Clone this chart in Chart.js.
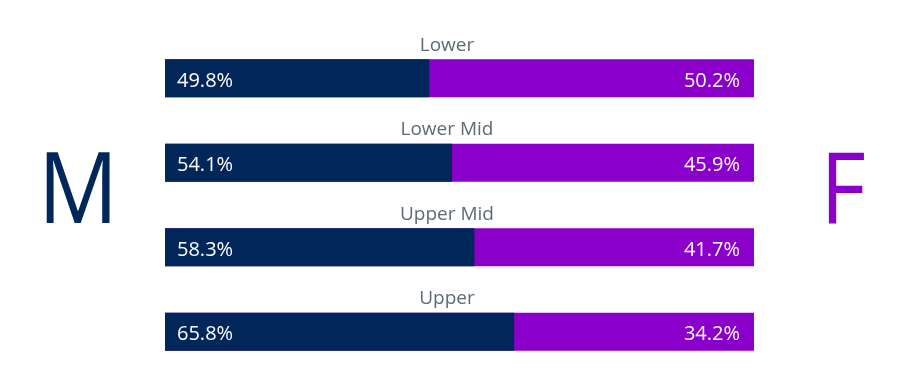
<!DOCTYPE html>
<html>
<head>
<meta charset="utf-8">
<script src="https://cdn.jsdelivr.net/npm/chart.js@4/dist/chart.umd.min.js"></script>
<style>
  html, body { margin: 0; padding: 0; background: #ffffff; }
  #wrap { width: 906px; height: 383px; position: relative; }
</style>
</head>
<body>
<div id="wrap"><canvas id="c"></canvas></div>
<script>
const categories = ['Lower', 'Lower Mid', 'Upper Mid', 'Upper'];
const maleValues = [49.8, 54.1, 58.3, 65.8];
const femaleValues = [50.2, 45.9, 41.7, 34.2];
const sideLabels = ['M', 'F'];

const NAVY = '#00265A';
const PURPLE = '#8A00CA';
const GREY = '#5E6B73';

// full bar = male + female share
const totalValues = maleValues.map((m, i) => m + femaleValues[i]);

const labelPlugin = {
  id: 'labels',
  afterDatasetsDraw(chart) {
    const ctx = chart.ctx;
    const meta = chart.getDatasetMeta(0);
    const area = chart.chartArea;
    ctx.save();
    meta.data.forEach((bar, i) => {
      const top = bar.y - bar.height / 2;
      ctx.fillStyle = GREY;
      ctx.font = '19px "Open Sans"';
      ctx.textAlign = 'center';
      ctx.textBaseline = 'alphabetic';
      ctx.fillText(categories[i], 447, top - 8.5);

      ctx.fillStyle = '#ffffff';
      ctx.font = '20px "Open Sans"';
      ctx.textAlign = 'left';
      ctx.fillText(maleValues[i].toFixed(1) + '%', area.left + 12, bar.y + 8.5);
      ctx.textAlign = 'right';
      ctx.fillText(femaleValues[i].toFixed(1) + '%', area.right - 14, bar.y + 8.5);
    });
    ctx.font = '98px "Open Sans"';
    ctx.textAlign = 'center';
    ctx.save();
    ctx.translate(78, 223);
    ctx.scale(0.91, 1);
    ctx.fillStyle = NAVY;
    ctx.fillText(sideLabels[0], 0, 0);
    ctx.restore();
    ctx.save();
    ctx.translate(843, 223);
    ctx.scale(0.9, 1);
    ctx.fillStyle = PURPLE;
    ctx.fillText(sideLabels[1], 0, 0);
    ctx.restore();
    ctx.restore();
  }
};

new Chart(document.getElementById('c'), {
  type: 'bar',
  data: {
    labels: categories,
    datasets: [
      {
        label: 'M',
        data: maleValues,
        backgroundColor: NAVY,
        xAxisID: 'x',
        barPercentage: 0.45,
        categoryPercentage: 1,
        grouped: false
      },
      {
        label: 'F',
        data: totalValues,
        backgroundColor: PURPLE,
        xAxisID: 'x2',
        barPercentage: 0.45,
        categoryPercentage: 1,
        grouped: false
      }
    ]
  },
  options: {
    indexAxis: 'y',
    responsive: true,
    maintainAspectRatio: false,
    animation: false,
    layout: { padding: { left: 165, right: 152, top: 36, bottom: 9 } },
    scales: {
      x: { display: false, min: 0, max: 111 },
      x2: { display: false, min: 0, max: 100 },
      y: { display: false }
    },
    plugins: {
      legend: { display: false },
      tooltip: { enabled: false }
    }
  },
  plugins: [labelPlugin]
});
</script>
</body>
</html>
